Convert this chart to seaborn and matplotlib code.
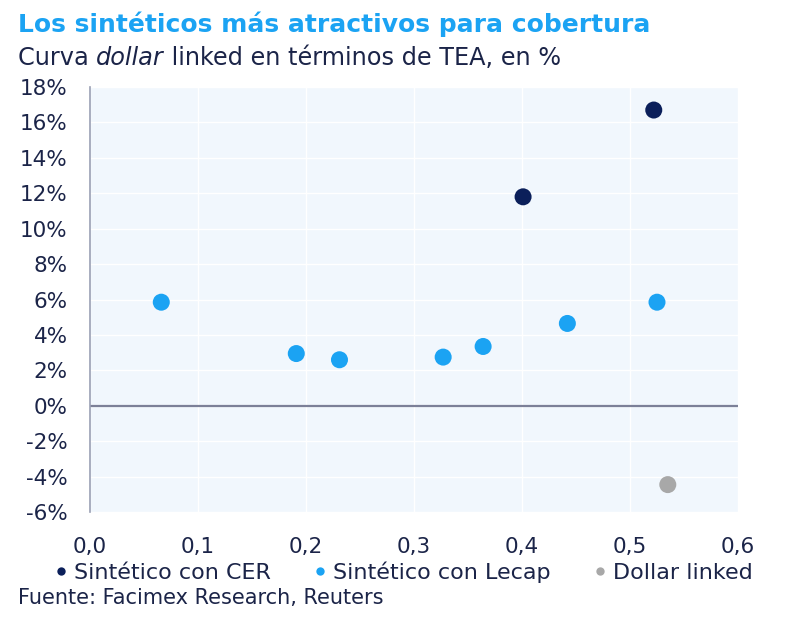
import matplotlib
matplotlib.use("Agg")
import matplotlib.pyplot as plt
import seaborn as sns
import pandas as pd
import matplotlib.ticker as mticker
from matplotlib.lines import Line2D

# Data (duration, TEA %)
cer_x = [0.401, 0.522]
cer_y = [11.8, 16.7]
lecap_x = [0.066, 0.191, 0.231, 0.327, 0.364, 0.442, 0.525]
lecap_y = [5.85, 2.95, 2.6, 2.75, 3.35, 4.65, 5.85]
dl_x = [0.535]
dl_y = [-4.45]
series_names = ["Sintético con CER", "Sintético con Lecap", "Dollar linked"]
x_ticks = [0.0, 0.1, 0.2, 0.3, 0.4, 0.5, 0.6]
y_ticks = [-6, -4, -2, 0, 2, 4, 6, 8, 10, 12, 14, 16, 18]

colors = ["#0b1f5a", "#1ba3f3", "#a8a8a8"]

df = pd.concat([
    pd.DataFrame({"x": cer_x, "y": cer_y, "serie": series_names[0]}),
    pd.DataFrame({"x": lecap_x, "y": lecap_y, "serie": series_names[1]}),
    pd.DataFrame({"x": dl_x, "y": dl_y, "serie": series_names[2]}),
], ignore_index=True)

sns.set_style("white")
plt.rcParams['font.family'] = ['DejaVu Sans']
text_col = "#1b2448"

fig = plt.figure(figsize=(8, 6.26), dpi=100)
ax = fig.add_axes([0.1125, 0.182, 0.81, 0.679])
ax.set_facecolor("#f1f7fd")

sns.scatterplot(data=df, x="x", y="y", hue="serie", palette=colors,
                s=150, edgecolor="none", ax=ax, legend=False, zorder=3)

ax.set_xlim(0, 0.6)
ax.set_ylim(-6, 18)
ax.set_xticks(x_ticks)
ax.set_yticks(y_ticks)
ax.xaxis.set_major_formatter(mticker.FuncFormatter(lambda v, p: f"{v:.1f}".replace(".", ",")))
ax.yaxis.set_major_formatter(mticker.FuncFormatter(lambda v, p: f"{v:.0f}%"))
ax.grid(True, color="white", linewidth=1.0)
ax.set_axisbelow(True)
ax.axhline(0, color="#7c8098", linewidth=1.6, zorder=2)
for side in ["top", "right", "bottom"]:
    ax.spines[side].set_visible(False)
ax.spines["left"].set_color("#9aa0b4")
ax.spines["left"].set_linewidth(1.2)
ax.tick_params(axis="both", length=0, labelsize=15.5, colors=text_col)
ax.tick_params(axis="y", pad=16)
ax.tick_params(axis="x", pad=18)
ax.set_xlabel("")
ax.set_ylabel("")

# Titles
fig.text(0.022, 0.962, "Los sintéticos más atractivos para cobertura",
         fontsize=18, fontweight="bold", color="#1ba3f3", va="center")
sub_y = 0.908
sub_fs = 17.3
t1 = fig.text(0.022, sub_y, "Curva ", fontsize=sub_fs, color=text_col, va="center")
fig.canvas.draw()
r = fig.canvas.get_renderer()
x2 = t1.get_window_extent(r).x1 / fig.bbox.width
t2 = fig.text(x2, sub_y, "dollar", fontsize=sub_fs, color=text_col, va="center", style="italic")
x3 = t2.get_window_extent(r).x1 / fig.bbox.width
fig.text(x3, sub_y, " linked en términos de TEA, en %", fontsize=sub_fs, color=text_col, va="center")

# Legend
handles = [Line2D([0], [0], marker="o", linestyle="", markersize=6,
                  markerfacecolor=c, markeredgecolor="none") for c in colors]
fig.legend(handles, series_names, loc="center", bbox_to_anchor=(0.5, 0.086),
           ncol=3, frameon=False, fontsize=16, handletextpad=0.0,
           handlelength=1.2, columnspacing=1.6, labelcolor=text_col)

fig.text(0.022, 0.044, "Fuente: Facimex Research, Reuters", fontsize=15,
         color=text_col, va="center")

fig.savefig("out.png", dpi=100)
